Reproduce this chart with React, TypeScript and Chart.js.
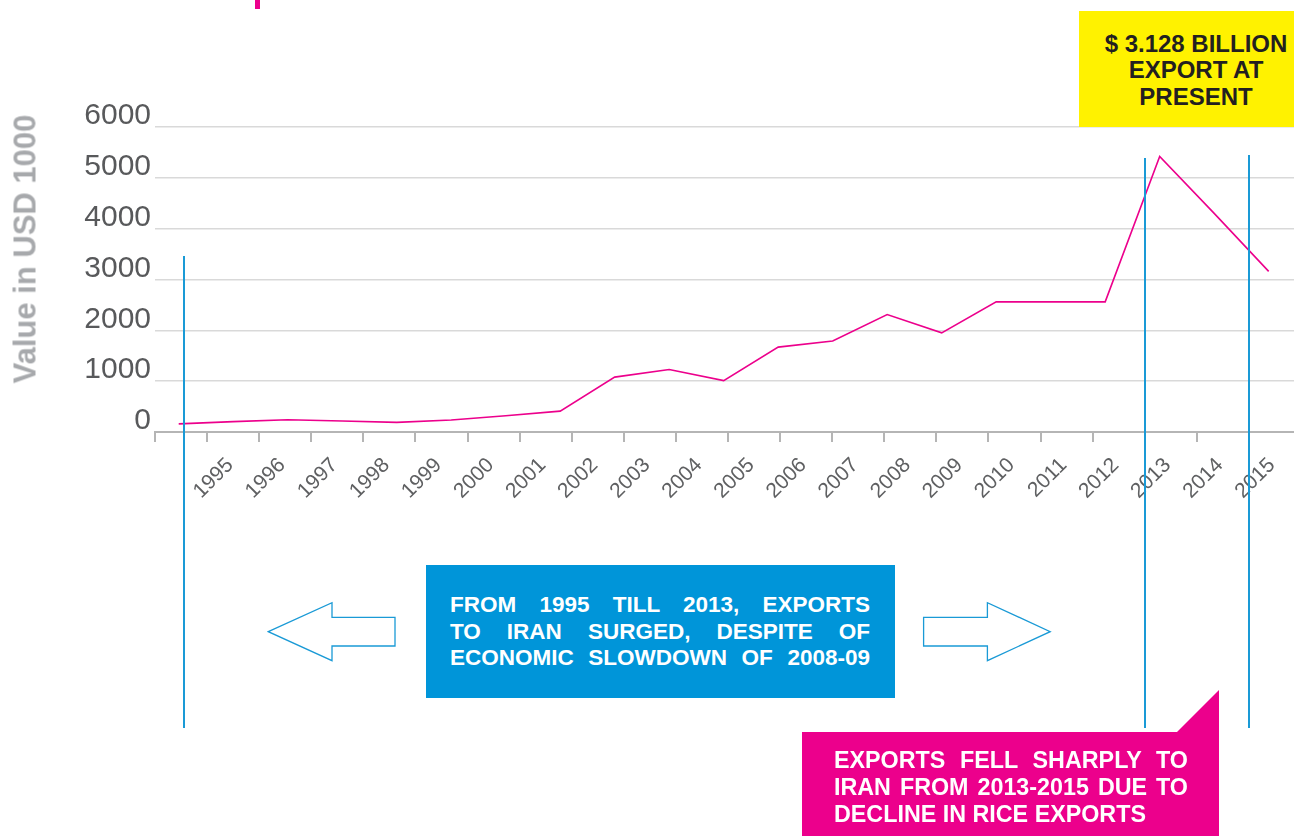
import React, { useEffect, useRef } from 'react';
import { Chart, registerables } from 'chart.js';

Chart.register(...registerables);

// ---- data ----
const axisLabels = ['', '1995', '1996', '1997', '1998', '1999', '2000', '2001', '2002', '2003', '2004', '2005', '2006', '2007', '2008', '2009', '2010', '2011', '2012', '2013', '2014', '2015'];
const dataYears = [1995, 1996, 1997, 1998, 1999, 2000, 2001, 2002, 2003, 2004, 2005, 2006, 2007, 2008, 2009, 2010, 2011, 2012, 2013, 2014, 2015];
const exportValues = [160, 205, 240, 215, 190, 235, 320, 410, 1080, 1230, 1010, 1670, 1790, 2310, 1950, 2560, 2560, 2560, 5420, 4300, 3160];
const yMin = 0;
const yMax = 6000;
const yStep = 1000;
const lineYearMin = 1994.565;
const lineYearMax = 2015.593;

// annotation lines: slot index on the category axis, shift in slot widths, top value
const markerSlots = [0, 19, 21];
const markerShifts = [0.05, -0.5, -0.5];
const markerTops = [3460, 5390, 5450];

const FONT = '"Liberation Sans", Arial, sans-serif';
const BLUE = '#1a9ad6';
const MAGENTA = '#ec008c';
const MARKER_BOTTOM = 728;

const markerPlugin = {
  id: 'markerLines',
  afterDatasetsDraw(chart: any) {
    const { ctx } = chart;
    const xs = chart.scales.x;
    const ys = chart.scales.y;
    const slot = xs.getPixelForValue(1) - xs.getPixelForValue(0);
    ctx.save();
    ctx.strokeStyle = BLUE;
    ctx.lineWidth = 2;
    markerSlots.forEach((s, i) => {
      const px = Math.round(xs.getPixelForValue(s) + markerShifts[i] * slot);
      ctx.beginPath();
      ctx.moveTo(px, ys.getPixelForValue(markerTops[i]));
      ctx.lineTo(px, MARKER_BOTTOM);
      ctx.stroke();
    });
    ctx.restore();
  },
};

function ChartCanvas() {
  const ref = useRef<HTMLCanvasElement | null>(null);
  useEffect(() => {
    if (!ref.current) return;
    const chart = new Chart(ref.current, {
      type: 'line',
      data: {
        datasets: [
          {
            data: dataYears.map((yr, i) => ({ x: yr, y: exportValues[i] })),
            xAxisID: 'xl',
            yAxisID: 'y',
            borderColor: MAGENTA,
            borderWidth: 1.6,
            pointRadius: 0,
            tension: 0,
            fill: false,
          },
        ],
      },
      options: {
        responsive: false,
        animation: false,
        devicePixelRatio: 1,
        layout: { padding: { top: 127, left: 0, right: 0, bottom: 0 } },
        plugins: { legend: { display: false }, tooltip: { enabled: false } },
        scales: {
          x: {
            type: 'category',
            labels: axisLabels,
            offset: true,
            position: 'bottom',
            grid: { offset: true, drawOnChartArea: false, drawTicks: true, tickLength: 10, color: '#b5b5b5', lineWidth: 2 },
            border: { display: true, color: '#b5b5b5', width: 2 },
            ticks: { autoSkip: false, maxRotation: 45, minRotation: 45, font: { family: FONT, size: 21 }, color: '#5f6062', padding: 11, labelOffset: -3 },
            afterFit: (s: any) => { s.height = 404; s.paddingLeft = 0; s.paddingRight = 0; },
          },
          xl: { type: 'linear', display: false, min: lineYearMin, max: lineYearMax },
          y: {
            type: 'linear',
            min: yMin,
            max: yMax,
            ticks: { stepSize: yStep, font: { family: FONT, size: 30 }, color: '#58595b', padding: 4, labelOffset: -11, callback: (v: any) => String(v) },
            grid: { color: '#d9d9d9', lineWidth: 1.5, drawTicks: false },
            border: { display: false },
            afterFit: (s: any) => { s.width = 155; s.paddingTop = 0; s.paddingBottom = 0; },
          },
        },
      },
      plugins: [markerPlugin],
    } as any);
    return () => chart.destroy();
  }, []);
  return <canvas ref={ref} width={1301} height={836} style={{ position: 'absolute', left: 0, top: 0, width: 1301, height: 836 }} />;
}

const lineStyle: React.CSSProperties = { textAlign: 'justify', textAlignLast: 'justify' as any, whiteSpace: 'nowrap' };

export default function App() {
  return (
    <div style={{ position: 'fixed', left: 0, top: 0, width: 1294, height: 836, overflow: 'hidden', background: '#fff', fontFamily: FONT }}>
      <ChartCanvas />
      <div style={{ position: 'absolute', left: 255, top: 0, width: 5, height: 9, background: MAGENTA }} />
      <div style={{ position: 'absolute', left: 25, top: 249, transform: 'translate(-50%,-50%) rotate(-90deg)', whiteSpace: 'nowrap', fontWeight: 'bold', fontSize: 31, lineHeight: 1, color: '#a7a9ac' }}>
        Value in USD 1000
      </div>
      <div style={{ position: 'absolute', left: 1079, top: 11, width: 215, height: 116, background: '#fff200' }} />
      <div style={{ position: 'absolute', left: 1099, top: 30.5, width: 194, textAlign: 'center', fontWeight: 'bold', fontSize: 24, lineHeight: '26.5px', color: '#231f20' }}>
        <div>$ 3.128 BILLION</div>
        <div>EXPORT AT</div>
        <div>PRESENT</div>
      </div>
      <div style={{ position: 'absolute', left: 426, top: 565, width: 469, height: 133, background: '#0095d9' }} />
      <div style={{ position: 'absolute', left: 450, top: 592, width: 420, fontWeight: 'bold', fontSize: 22.5, lineHeight: '26.5px', color: '#fff' }}>
        <div style={lineStyle}>FROM 1995 TILL 2013, EXPORTS</div>
        <div style={lineStyle}>TO IRAN SURGED, DESPITE OF</div>
        <div style={lineStyle}>ECONOMIC SLOWDOWN OF 2008-09</div>
      </div>
      <svg width={1294} height={836} style={{ position: 'absolute', left: 0, top: 0, pointerEvents: 'none' }}>
        <polygon points="268.3,631.7 332,602.7 332,617.3 395,617.3 395,646 332,646 332,660.7" fill="#fff" stroke={BLUE} strokeWidth={1.3} />
        <polygon points="923.6,617.3 987.4,617.3 987.4,602.7 1050.2,631.7 987.4,660.7 987.4,646 923.6,646" fill="#fff" stroke={BLUE} strokeWidth={1.3} />
        <polygon points="802,732 1177,732 1219,690 1219,836 802,836" fill={MAGENTA} />
      </svg>
      <div style={{ position: 'absolute', left: 834, top: 746.6, width: 354, fontWeight: 'bold', fontSize: 23.3, lineHeight: '27.3px', color: '#fff' }}>
        <div style={lineStyle}>EXPORTS FELL SHARPLY TO</div>
        <div style={lineStyle}>IRAN FROM 2013-2015 DUE TO</div>
        <div style={{ whiteSpace: 'nowrap' }}>DECLINE IN RICE EXPORTS</div>
      </div>
    </div>
  );
}
